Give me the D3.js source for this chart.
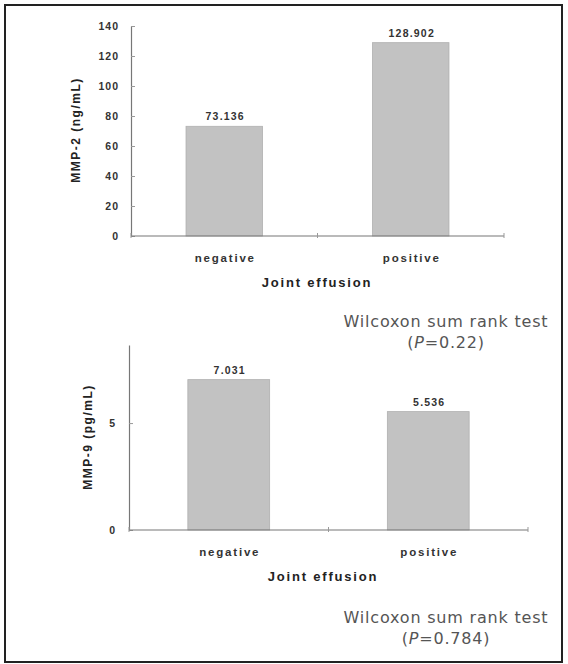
<!DOCTYPE html>
<html><head><meta charset="utf-8">
<script src="https://cdn.jsdelivr.net/npm/d3@7"></script>
<style>body{margin:0;background:#fff}svg{display:block}</style>
</head><body>
<svg id="c" width="568" height="664"></svg>
<script>
const categories = ["negative", "positive"];
const mmp2Values = [73.136, 128.902];
const mmp2Labels = ["73.136", "128.902"];
const mmp2Ticks = [0, 20, 40, 60, 80, 100, 120, 140];
const mmp9Values = [7.031, 5.536];
const mmp9Labels = ["7.031", "5.536"];
const mmp9Ticks = [0, 5];
const xTitle = "Joint effusion";
const testText = ["Wilcoxon sum rank test", "Wilcoxon sum rank test"];
const pText = ["0.22", "0.784"];

const FONT = "Liberation Sans, Arial";
const svg = d3.select("#c");
svg.append("rect").attr("x",5).attr("y",5).attr("width",557).attr("height",657)
  .attr("fill","#fff").attr("stroke","#222").attr("stroke-width",2);

function panel(o){
  const x = d3.scaleBand().domain(categories).range([o.x0,o.x1]).paddingInner(0.59).paddingOuter(0.295);
  const y = d3.scaleLinear().domain([0,o.ymax]).range([o.y0,o.y1]);
  const g = svg.append("g");
  g.selectAll("rect.bar").data(o.values).join("rect").attr("class","bar")
    .attr("x",(d,i)=>x(categories[i])).attr("width",x.bandwidth())
    .attr("y",d=>y(d)).attr("height",d=>y(0)-y(d))
    .attr("fill","#c2c2c2").attr("stroke","#b0b0b0").attr("stroke-width",0.8);
  const ya = g.append("g").attr("transform",`translate(${o.x0},0)`)
    .call(d3.axisLeft(y).tickValues(o.ticks).tickSize(-4).tickPadding(o.tp).tickSizeOuter(0));
  ya.select(".domain").attr("stroke","#777").attr("stroke-width",1.2);
  ya.selectAll(".tick line").attr("stroke","#999");
  ya.selectAll("text").attr("font-family",FONT).attr("font-weight","bold")
    .attr("font-size",10.5).attr("letter-spacing",1).attr("fill","#333");
  g.append("line").attr("x1",o.x0).attr("x2",o.x1).attr("y1",y(0)).attr("y2",y(0))
    .attr("stroke","#777").attr("stroke-width",1.2);
  const bounds = [o.x0, (o.x0+o.x1)/2, o.x1];
  g.selectAll("line.xt").data(bounds).join("line").attr("class","xt")
    .attr("x1",d=>d).attr("x2",d=>d).attr("y1",y(0)-3).attr("y2",y(0)+2).attr("stroke","#999");
  g.selectAll("text.cat").data(categories).join("text").attr("class","cat")
    .attr("x",d=>x(d)+x.bandwidth()/2+1).attr("y",y(0)+26)
    .attr("text-anchor","middle").attr("font-family",FONT)
    .attr("font-weight","bold").attr("font-size",11.5).attr("letter-spacing",1.8)
    .attr("fill","#333").text(d=>d);
  g.selectAll("text.val").data(o.values).join("text").attr("class","val")
    .attr("x",(d,i)=>x(categories[i])+x.bandwidth()/2+1).attr("y",d=>y(d)-6)
    .attr("text-anchor","middle").attr("font-family",FONT)
    .attr("font-weight","bold").attr("font-size",10.5).attr("letter-spacing",1.2).attr("fill","#333")
    .text((d,i)=>o.labels[i]);
  g.append("text").attr("x",o.xtX).attr("y",y(0)+51).attr("text-anchor","middle")
    .attr("font-family",FONT).attr("font-weight","bold")
    .attr("font-size",13).attr("letter-spacing",1.8).attr("fill","#222").text(xTitle);
  g.append("text").attr("transform",`translate(${o.ytX},${o.ytY}) rotate(-90)`)
    .attr("text-anchor","middle").attr("font-family",FONT)
    .attr("font-weight","bold").attr("font-size",12).attr("letter-spacing",1.5)
    .attr("fill","#222").text(o.ytitle);
  const t = g.append("text").attr("font-family","DejaVu Sans").attr("font-size",16)
    .attr("letter-spacing",0.8).attr("fill","#555").attr("text-anchor","middle");
  t.append("tspan").attr("x",446).attr("y",o.tY).text(o.test);
  const t2 = t.append("tspan").attr("x",446).attr("y",o.tY+21);
  t2.append("tspan").text("(");
  t2.append("tspan").attr("font-style","italic").text("P");
  t2.append("tspan").text("=" + o.p + ")");
}

panel({x0:131,x1:504,y0:236,y1:26,ymax:140,values:mmp2Values,labels:mmp2Labels,ticks:mmp2Ticks,
  tp:12,xtX:317,ytX:80,ytY:130,ytitle:"MMP-2 (ng/mL)",test:testText[0],p:pText[0],tY:327});
panel({x0:129,x1:528,y0:530,y1:345,ymax:8.65,values:mmp9Values,labels:mmp9Labels,ticks:mmp9Ticks,
  tp:13,xtX:323,ytX:92,ytY:437,ytitle:"MMP-9 (pg/mL)",test:testText[1],p:pText[1],tY:623});
</script>
</body></html>
